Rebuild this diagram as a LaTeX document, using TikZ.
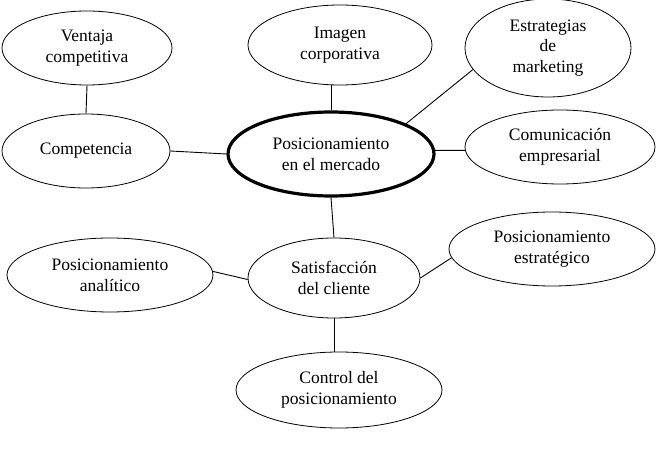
\documentclass[tikz,border=0pt]{standalone}
\usepackage{fontspec}
\setmainfont{Liberation Serif}
\usetikzlibrary{shapes.geometric}
\tikzset{
  bub/.style={ellipse, draw, line width=0.8pt, inner sep=0pt, align=center,
    font=\fontsize{17.5}{20.7}\selectfont},
  mainbub/.style={bub, line width=3.2pt},
  link/.style={line width=0.9pt}
}
\begin{document}
\begin{tikzpicture}[x=1pt,y=-1pt]
\useasboundingbox (0,0) rectangle (656,454);
\node[bub, minimum width=170, minimum height=74] (v) at (87,48) {Ventaja\\competitiva};
\node[bub, minimum width=168, minimum height=74] (comp) at (86,151) {Competencia};
\node[bub, minimum width=184, minimum height=80] (img) at (340,45) {Imagen\\corporativa};
\node[mainbub, minimum width=206, minimum height=84] (c) at (331,154) {Posicionamiento\\en el mercado};
\node[bub, minimum width=166, minimum height=98] (est) at (548,48) {Estrategias\\de\\marketing};
\node[bub, minimum width=190, minimum height=74] (com) at (560,147) {Comunicación\\empresarial};
\node[bub, minimum width=206, minimum height=74] (ana) at (110,275) {Posicionamiento\\analítico};
\node[bub, minimum width=172, minimum height=80] (s) at (334,278) {Satisfacción\\del cliente};
\node[bub, minimum width=206, minimum height=74] (estr) at (552,249) {Posicionamiento\\estratégico};
\node[bub, minimum width=206, minimum height=76] (ctrl) at (339,390) {Control del\\posicionamiento};
\draw[link] (v.south) -- (comp.north);
\draw[link] (comp.east) -- (c.west);
\draw[link] (c.north) -- (c.north |- img.south);
\draw[link] (c.22) -- (est.196);
\draw[link] (c.2) -- (com.182);
\draw[link] (c.south) -- (s.north);
\draw[link] (ana.2) -- (s.181);
\draw[link] (s.0) -- (estr.185);
\draw[link] (s.south) -- (s.south |- ctrl.north);
\end{tikzpicture}
\end{document}
